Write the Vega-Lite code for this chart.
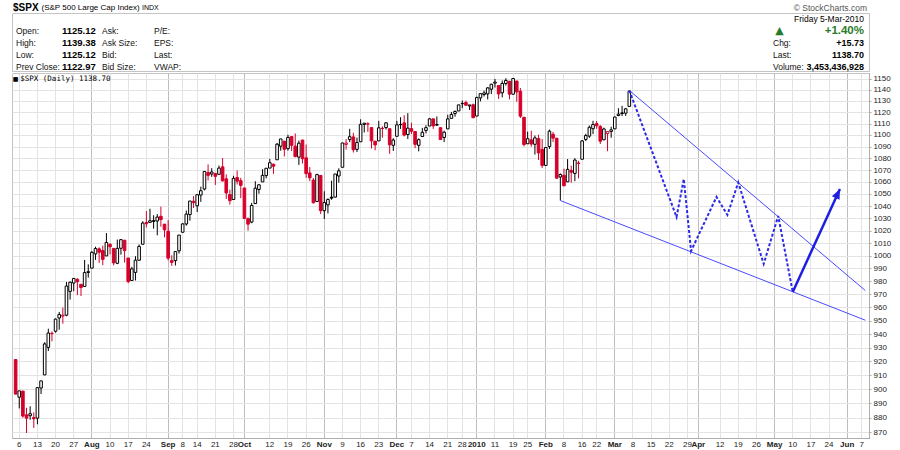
{
  "$schema": "https://vega.github.io/schema/vega-lite/v6.json",
  "padding": {"left": 11, "top": 2, "right": 4, "bottom": 0},
  "spacing": 0,
  "background": "white",
  "config": {"axis": {"labelFont": "Liberation Sans"}},
  "datasets": {
    "spx": [
      {"d":"2009-07-02","o":921.24,"h":921.24,"l":896.42,"c":896.42},
      {"d":"2009-07-06","o":894.27,"h":898.72,"l":886.36,"c":898.72},
      {"d":"2009-07-07","o":898.60,"h":898.60,"l":879.93,"c":881.03},
      {"d":"2009-07-08","o":881.90,"h":886.80,"l":869.32,"c":879.56},
      {"d":"2009-07-09","o":881.28,"h":887.86,"l":878.45,"c":882.68},
      {"d":"2009-07-10","o":880.03,"h":883.57,"l":872.81,"c":879.13},
      {"d":"2009-07-13","o":879.57,"h":901.05,"l":875.32,"c":901.05},
      {"d":"2009-07-14","o":900.77,"h":905.84,"l":896.50,"c":905.84},
      {"d":"2009-07-15","o":910.15,"h":933.95,"l":910.15,"c":932.68},
      {"d":"2009-07-16","o":930.17,"h":943.96,"l":927.45,"c":940.74},
      {"d":"2009-07-17","o":940.56,"h":941.89,"l":934.65,"c":940.38},
      {"d":"2009-07-20","o":942.07,"h":951.62,"l":940.99,"c":951.13},
      {"d":"2009-07-21","o":951.97,"h":956.53,"l":943.22,"c":954.58},
      {"d":"2009-07-22","o":953.40,"h":959.83,"l":947.75,"c":954.07},
      {"d":"2009-07-23","o":954.07,"h":979.42,"l":953.27,"c":976.29},
      {"d":"2009-07-24","o":972.16,"h":979.79,"l":965.95,"c":979.26},
      {"d":"2009-07-27","o":978.63,"h":982.49,"l":972.29,"c":982.18},
      {"d":"2009-07-28","o":981.48,"h":982.35,"l":969.35,"c":979.62},
      {"d":"2009-07-29","o":977.66,"h":977.76,"l":968.65,"c":975.15},
      {"d":"2009-07-30","o":976.01,"h":996.68,"l":976.01,"c":986.75},
      {"d":"2009-07-31","o":986.80,"h":993.18,"l":982.85,"c":987.48},
      {"d":"2009-08-03","o":990.22,"h":1003.61,"l":990.22,"c":1002.63},
      {"d":"2009-08-04","o":1001.41,"h":1007.12,"l":996.68,"c":1005.65},
      {"d":"2009-08-05","o":1005.41,"h":1006.64,"l":994.31,"c":1002.72},
      {"d":"2009-08-06","o":1004.06,"h":1008.00,"l":992.49,"c":997.08},
      {"d":"2009-08-07","o":999.83,"h":1018.00,"l":999.83,"c":1010.48},
      {"d":"2009-08-10","o":1008.89,"h":1010.12,"l":1000.99,"c":1007.10},
      {"d":"2009-08-11","o":1005.77,"h":1005.77,"l":992.40,"c":994.35},
      {"d":"2009-08-12","o":994.00,"h":1012.78,"l":993.36,"c":1005.81},
      {"d":"2009-08-13","o":1005.86,"h":1013.14,"l":1000.82,"c":1012.73},
      {"d":"2009-08-14","o":1012.23,"h":1012.60,"l":994.60,"c":1004.09},
      {"d":"2009-08-17","o":998.18,"h":998.18,"l":978.51,"c":979.73},
      {"d":"2009-08-18","o":980.62,"h":991.20,"l":980.62,"c":989.67},
      {"d":"2009-08-19","o":986.88,"h":999.61,"l":980.62,"c":996.46},
      {"d":"2009-08-20","o":996.41,"h":1008.92,"l":996.39,"c":1007.37},
      {"d":"2009-08-21","o":1009.06,"h":1027.59,"l":1009.06,"c":1026.13},
      {"d":"2009-08-24","o":1026.59,"h":1035.82,"l":1022.48,"c":1025.57},
      {"d":"2009-08-25","o":1026.63,"h":1037.75,"l":1026.21,"c":1028.00},
      {"d":"2009-08-26","o":1027.35,"h":1032.47,"l":1021.57,"c":1028.12},
      {"d":"2009-08-27","o":1027.81,"h":1033.33,"l":1016.20,"c":1030.98},
      {"d":"2009-08-28","o":1031.62,"h":1039.47,"l":1023.13,"c":1028.93},
      {"d":"2009-08-31","o":1025.21,"h":1025.21,"l":1014.62,"c":1020.62},
      {"d":"2009-09-01","o":1019.52,"h":1028.45,"l":996.28,"c":998.04},
      {"d":"2009-09-02","o":996.07,"h":1000.34,"l":991.97,"c":994.75},
      {"d":"2009-09-03","o":996.12,"h":1003.43,"l":992.25,"c":1003.24},
      {"d":"2009-09-04","o":1003.84,"h":1016.48,"l":1001.65,"c":1016.40},
      {"d":"2009-09-08","o":1018.67,"h":1026.07,"l":1018.67,"c":1025.39},
      {"d":"2009-09-09","o":1025.36,"h":1036.34,"l":1023.97,"c":1033.37},
      {"d":"2009-09-10","o":1032.99,"h":1044.14,"l":1028.04,"c":1044.14},
      {"d":"2009-09-11","o":1043.92,"h":1048.18,"l":1038.40,"c":1042.73},
      {"d":"2009-09-14","o":1040.15,"h":1049.74,"l":1035.00,"c":1049.34},
      {"d":"2009-09-15","o":1049.03,"h":1056.04,"l":1043.42,"c":1052.63},
      {"d":"2009-09-16","o":1053.99,"h":1068.76,"l":1052.87,"c":1068.76},
      {"d":"2009-09-17","o":1067.87,"h":1074.77,"l":1061.20,"c":1065.49},
      {"d":"2009-09-18","o":1066.60,"h":1071.52,"l":1064.27,"c":1068.30},
      {"d":"2009-09-21","o":1067.14,"h":1067.28,"l":1057.46,"c":1064.66},
      {"d":"2009-09-22","o":1066.35,"h":1073.81,"l":1066.35,"c":1071.66},
      {"d":"2009-09-23","o":1072.69,"h":1080.15,"l":1060.39,"c":1060.87},
      {"d":"2009-09-24","o":1062.56,"h":1066.29,"l":1045.85,"c":1050.78},
      {"d":"2009-09-25","o":1049.48,"h":1053.47,"l":1041.17,"c":1044.38},
      {"d":"2009-09-28","o":1045.38,"h":1065.13,"l":1045.38,"c":1062.98},
      {"d":"2009-09-29","o":1063.69,"h":1069.62,"l":1057.83,"c":1060.61},
      {"d":"2009-09-30","o":1061.02,"h":1063.40,"l":1046.47,"c":1057.08},
      {"d":"2009-10-01","o":1054.91,"h":1054.91,"l":1029.45,"c":1029.85},
      {"d":"2009-10-02","o":1029.71,"h":1030.60,"l":1019.95,"c":1025.21},
      {"d":"2009-10-05","o":1026.87,"h":1042.58,"l":1025.92,"c":1040.46},
      {"d":"2009-10-06","o":1042.02,"h":1060.55,"l":1042.02,"c":1054.72},
      {"d":"2009-10-07","o":1053.65,"h":1058.02,"l":1050.10,"c":1057.58},
      {"d":"2009-10-08","o":1060.03,"h":1070.67,"l":1060.03,"c":1065.48},
      {"d":"2009-10-09","o":1065.28,"h":1071.51,"l":1063.00,"c":1071.49},
      {"d":"2009-10-12","o":1071.63,"h":1079.46,"l":1071.63,"c":1076.19},
      {"d":"2009-10-13","o":1074.96,"h":1075.30,"l":1066.71,"c":1073.19},
      {"d":"2009-10-14","o":1078.68,"h":1093.17,"l":1078.68,"c":1092.02},
      {"d":"2009-10-15","o":1090.36,"h":1096.56,"l":1086.41,"c":1096.56},
      {"d":"2009-10-16","o":1094.67,"h":1094.67,"l":1081.53,"c":1087.68},
      {"d":"2009-10-19","o":1088.22,"h":1100.17,"l":1086.48,"c":1097.91},
      {"d":"2009-10-20","o":1098.64,"h":1098.64,"l":1086.16,"c":1091.06},
      {"d":"2009-10-21","o":1090.36,"h":1101.36,"l":1080.77,"c":1081.40},
      {"d":"2009-10-22","o":1080.96,"h":1095.21,"l":1074.31,"c":1092.91},
      {"d":"2009-10-23","o":1095.62,"h":1095.83,"l":1075.49,"c":1079.60},
      {"d":"2009-10-26","o":1080.36,"h":1091.75,"l":1063.38,"c":1066.95},
      {"d":"2009-10-27","o":1067.54,"h":1072.48,"l":1060.62,"c":1063.41},
      {"d":"2009-10-28","o":1061.51,"h":1063.26,"l":1042.19,"c":1042.63},
      {"d":"2009-10-29","o":1043.69,"h":1066.83,"l":1043.69,"c":1066.11},
      {"d":"2009-10-30","o":1065.41,"h":1065.41,"l":1033.38,"c":1036.19},
      {"d":"2009-11-02","o":1036.18,"h":1052.18,"l":1029.38,"c":1042.88},
      {"d":"2009-11-03","o":1040.92,"h":1046.36,"l":1033.94,"c":1045.41},
      {"d":"2009-11-04","o":1047.30,"h":1061.00,"l":1045.15,"c":1046.50},
      {"d":"2009-11-05","o":1047.30,"h":1066.65,"l":1047.30,"c":1066.63},
      {"d":"2009-11-06","o":1064.95,"h":1071.48,"l":1059.32,"c":1069.30},
      {"d":"2009-11-09","o":1072.31,"h":1093.19,"l":1072.31,"c":1093.08},
      {"d":"2009-11-10","o":1091.86,"h":1096.42,"l":1087.40,"c":1093.01},
      {"d":"2009-11-11","o":1096.04,"h":1105.37,"l":1093.81,"c":1098.51},
      {"d":"2009-11-12","o":1098.31,"h":1101.97,"l":1084.90,"c":1087.24},
      {"d":"2009-11-13","o":1087.59,"h":1097.79,"l":1085.33,"c":1093.48},
      {"d":"2009-11-16","o":1094.13,"h":1113.69,"l":1094.13,"c":1109.30},
      {"d":"2009-11-17","o":1109.22,"h":1110.52,"l":1102.19,"c":1110.32},
      {"d":"2009-11-18","o":1109.44,"h":1111.10,"l":1102.70,"c":1109.80},
      {"d":"2009-11-19","o":1106.44,"h":1106.44,"l":1088.40,"c":1094.90},
      {"d":"2009-11-20","o":1094.66,"h":1094.66,"l":1086.81,"c":1091.38},
      {"d":"2009-11-23","o":1094.86,"h":1112.38,"l":1094.86,"c":1106.24},
      {"d":"2009-11-24","o":1105.83,"h":1107.56,"l":1097.63,"c":1105.65},
      {"d":"2009-11-25","o":1106.49,"h":1111.18,"l":1104.75,"c":1110.63},
      {"d":"2009-11-27","o":1105.47,"h":1105.47,"l":1083.74,"c":1091.49},
      {"d":"2009-11-30","o":1091.07,"h":1097.24,"l":1086.25,"c":1095.63},
      {"d":"2009-12-01","o":1098.89,"h":1112.28,"l":1098.89,"c":1108.86},
      {"d":"2009-12-02","o":1109.03,"h":1115.58,"l":1105.29,"c":1109.24},
      {"d":"2009-12-03","o":1110.59,"h":1117.28,"l":1098.74,"c":1099.92},
      {"d":"2009-12-04","o":1100.43,"h":1119.13,"l":1096.52,"c":1105.98},
      {"d":"2009-12-07","o":1105.52,"h":1110.72,"l":1100.83,"c":1103.25},
      {"d":"2009-12-08","o":1103.04,"h":1103.04,"l":1088.61,"c":1091.94},
      {"d":"2009-12-09","o":1091.07,"h":1097.04,"l":1085.89,"c":1095.95},
      {"d":"2009-12-10","o":1098.69,"h":1106.25,"l":1098.69,"c":1102.35},
      {"d":"2009-12-11","o":1103.96,"h":1108.50,"l":1101.34,"c":1106.41},
      {"d":"2009-12-14","o":1107.84,"h":1114.76,"l":1107.84,"c":1114.11},
      {"d":"2009-12-15","o":1114.11,"h":1114.11,"l":1105.35,"c":1107.93},
      {"d":"2009-12-16","o":1108.61,"h":1116.21,"l":1107.96,"c":1109.18},
      {"d":"2009-12-17","o":1106.36,"h":1106.36,"l":1095.88,"c":1096.08},
      {"d":"2009-12-18","o":1097.86,"h":1103.74,"l":1093.88,"c":1102.47},
      {"d":"2009-12-21","o":1105.31,"h":1117.68,"l":1105.31,"c":1114.05},
      {"d":"2009-12-22","o":1114.51,"h":1120.27,"l":1114.51,"c":1118.02},
      {"d":"2009-12-23","o":1118.84,"h":1121.58,"l":1116.00,"c":1120.59},
      {"d":"2009-12-24","o":1121.08,"h":1126.48,"l":1121.08,"c":1126.48},
      {"d":"2009-12-28","o":1127.53,"h":1130.38,"l":1123.51,"c":1127.78},
      {"d":"2009-12-29","o":1128.55,"h":1130.38,"l":1126.08,"c":1126.20},
      {"d":"2009-12-30","o":1125.53,"h":1126.42,"l":1121.94,"c":1126.42},
      {"d":"2009-12-31","o":1126.60,"h":1127.64,"l":1114.81,"c":1115.10},
      {"d":"2010-01-04","o":1116.56,"h":1133.87,"l":1116.56,"c":1132.99},
      {"d":"2010-01-05","o":1132.66,"h":1136.63,"l":1129.66,"c":1136.52},
      {"d":"2010-01-06","o":1135.71,"h":1139.19,"l":1133.95,"c":1137.14},
      {"d":"2010-01-07","o":1136.27,"h":1142.46,"l":1131.32,"c":1141.69},
      {"d":"2010-01-08","o":1140.52,"h":1145.39,"l":1136.22,"c":1144.98},
      {"d":"2010-01-11","o":1145.96,"h":1149.74,"l":1142.02,"c":1146.98},
      {"d":"2010-01-12","o":1143.81,"h":1143.81,"l":1131.77,"c":1136.22},
      {"d":"2010-01-13","o":1137.31,"h":1148.40,"l":1133.18,"c":1145.68},
      {"d":"2010-01-14","o":1145.68,"h":1150.41,"l":1143.80,"c":1148.46},
      {"d":"2010-01-15","o":1147.72,"h":1147.77,"l":1131.39,"c":1136.03},
      {"d":"2010-01-19","o":1136.03,"h":1150.45,"l":1135.77,"c":1150.23},
      {"d":"2010-01-20","o":1147.95,"h":1147.95,"l":1129.25,"c":1138.04},
      {"d":"2010-01-21","o":1138.68,"h":1141.58,"l":1114.84,"c":1116.48},
      {"d":"2010-01-22","o":1115.49,"h":1115.49,"l":1090.18,"c":1091.76},
      {"d":"2010-01-25","o":1092.40,"h":1102.97,"l":1092.40,"c":1096.78},
      {"d":"2010-01-26","o":1095.80,"h":1103.69,"l":1089.86,"c":1092.17},
      {"d":"2010-01-27","o":1091.94,"h":1099.51,"l":1083.11,"c":1097.50},
      {"d":"2010-01-28","o":1096.93,"h":1100.22,"l":1078.46,"c":1084.53},
      {"d":"2010-01-29","o":1087.61,"h":1096.45,"l":1071.59,"c":1073.87},
      {"d":"2010-02-01","o":1073.89,"h":1089.38,"l":1073.89,"c":1089.19},
      {"d":"2010-02-02","o":1090.05,"h":1104.73,"l":1087.96,"c":1103.32},
      {"d":"2010-02-03","o":1100.67,"h":1102.72,"l":1093.97,"c":1097.28},
      {"d":"2010-02-04","o":1097.25,"h":1097.25,"l":1062.78,"c":1063.11},
      {"d":"2010-02-05","o":1064.12,"h":1067.13,"l":1044.50,"c":1066.19},
      {"d":"2010-02-08","o":1065.51,"h":1071.20,"l":1056.51,"c":1056.74},
      {"d":"2010-02-09","o":1060.06,"h":1079.28,"l":1060.06,"c":1070.52},
      {"d":"2010-02-10","o":1069.68,"h":1073.67,"l":1059.34,"c":1068.13},
      {"d":"2010-02-11","o":1067.10,"h":1080.04,"l":1060.59,"c":1078.47},
      {"d":"2010-02-12","o":1075.95,"h":1077.81,"l":1062.97,"c":1075.51},
      {"d":"2010-02-16","o":1079.13,"h":1095.67,"l":1079.13,"c":1094.87},
      {"d":"2010-02-17","o":1096.14,"h":1101.03,"l":1094.72,"c":1099.51},
      {"d":"2010-02-18","o":1099.03,"h":1108.24,"l":1097.48,"c":1106.75},
      {"d":"2010-02-19","o":1105.49,"h":1112.42,"l":1100.80,"c":1109.17},
      {"d":"2010-02-22","o":1110.00,"h":1112.29,"l":1105.38,"c":1108.01},
      {"d":"2010-02-23","o":1107.49,"h":1108.58,"l":1092.18,"c":1094.60},
      {"d":"2010-02-24","o":1095.89,"h":1106.42,"l":1095.50,"c":1105.24},
      {"d":"2010-02-25","o":1101.24,"h":1103.50,"l":1086.02,"c":1102.94},
      {"d":"2010-02-26","o":1103.10,"h":1107.24,"l":1097.56,"c":1104.49},
      {"d":"2010-03-01","o":1105.36,"h":1116.11,"l":1105.36,"c":1115.71},
      {"d":"2010-03-02","o":1117.01,"h":1123.46,"l":1116.51,"c":1118.31},
      {"d":"2010-03-03","o":1119.36,"h":1125.64,"l":1116.58,"c":1118.79},
      {"d":"2010-03-04","o":1119.12,"h":1123.73,"l":1116.66,"c":1122.97},
      {"d":"2010-03-05","o":1125.12,"h":1139.38,"l":1125.12,"c":1138.70}
    ],
    "trend": [
      {"line":"upper","d":"2010-03-05","v":1139.4},
      {"line":"upper","d":"2010-06-08","v":972.8},
      {"line":"lower","d":"2010-02-05","v":1044.5},
      {"line":"lower","d":"2010-06-08","v":950.3}
    ],
    "proj": [
      {"d":"2010-03-05","v":1139.4},
      {"d":"2010-03-24","v":1031.0},
      {"d":"2010-03-26","v":1062.4},
      {"d":"2010-03-30","v":1003.7},
      {"d":"2010-04-09","v":1047.5},
      {"d":"2010-04-14","v":1032.7},
      {"d":"2010-04-19","v":1059.5},
      {"d":"2010-04-28","v":993.5},
      {"d":"2010-05-04","v":1031.9},
      {"d":"2010-05-10","v":971.7}
    ],
    "arrow": [
      {"d":"2010-05-10","v":971.7},
      {"d":"2010-05-27","v":1054.1}
    ]
  },
  "vconcat": [
    {
      "width": 857,
      "height": 58,
      "view": {"stroke": "#c4c4c4", "fill": "white"},
      "data": {"values": [
        {"t":"$SPX","col":0,"row":0,"k":"sym"},
        {"t":"(S&P 500 Large Cap Index)","col":2,"row":0,"k":"name"},
        {"t":"INDX","col":5,"row":0,"k":"exch"},
        {"t":"© StockCharts.com","col":10,"row":0,"k":"brand"},
        {"t":"Friday  5-Mar-2010","col":9,"row":1,"k":"rdate"},
        {"t":"Open:","col":1,"row":2,"k":"lab"},
        {"t":"High:","col":1,"row":3,"k":"lab"},
        {"t":"Low:","col":1,"row":4,"k":"lab"},
        {"t":"Prev Close:","col":1,"row":5,"k":"lab"},
        {"t":"1125.12","col":3,"row":2,"k":"val"},
        {"t":"1139.38","col":3,"row":3,"k":"val"},
        {"t":"1125.12","col":3,"row":4,"k":"val"},
        {"t":"1122.97","col":3,"row":5,"k":"val"},
        {"t":"Ask:","col":4,"row":2,"k":"lab"},
        {"t":"Ask Size:","col":4,"row":3,"k":"lab"},
        {"t":"Bid:","col":4,"row":4,"k":"lab"},
        {"t":"Bid Size:","col":4,"row":5,"k":"lab"},
        {"t":"P/E:","col":6,"row":2,"k":"lab"},
        {"t":"EPS:","col":6,"row":3,"k":"lab"},
        {"t":"Last:","col":6,"row":4,"k":"lab"},
        {"t":"VWAP:","col":6,"row":5,"k":"lab"},
        {"t":"▲","col":8,"row":2,"k":"tri"},
        {"t":"+1.40%","col":9,"row":2,"k":"pct"},
        {"t":"Chg:","col":7,"row":3,"k":"lab"},
        {"t":"+15.73","col":9,"row":3,"k":"rval"},
        {"t":"Last:","col":7,"row":4,"k":"lab"},
        {"t":"1138.70","col":9,"row":4,"k":"rval"},
        {"t":"Volume:","col":7,"row":5,"k":"lab"},
        {"t":"3,453,436,928","col":9,"row":5,"k":"rval"}
      ]},
      "encoding": {
        "x": {"field":"col","type":"quantitative","axis":null,
              "scale":{"domain":[0,1,2,3,4,5,6,7,8,9,10],"range":[1,4,29.5,50,90,130,142,761,767.5,852,855],"nice":false,"zero":false}},
        "y": {"field":"row","type":"quantitative","axis":null,
              "scale":{"domain":[0,1,2,3,4,5],"range":[-5,6,18,30,42,53.5],"nice":false,"zero":false}},
        "text": {"field":"t"}
      },
      "layer": [
        {"transform":[{"filter":"datum.k=='sym'"}],"mark":{"type":"text","align":"left","baseline":"middle","font":"Liberation Sans","fontSize":10,"fontWeight":"bold","color":"#000"}},
        {"transform":[{"filter":"datum.k=='name'"}],"mark":{"type":"text","align":"left","baseline":"middle","font":"Liberation Sans","fontSize":8,"color":"#000"}},
        {"transform":[{"filter":"datum.k=='exch'"}],"mark":{"type":"text","align":"left","baseline":"middle","font":"Liberation Sans","fontSize":7,"color":"#000"}},
        {"transform":[{"filter":"datum.k=='brand'"}],"mark":{"type":"text","align":"right","baseline":"middle","font":"Liberation Sans","fontSize":8.5,"color":"#555"}},
        {"transform":[{"filter":"datum.k=='rdate'"}],"mark":{"type":"text","align":"right","baseline":"middle","font":"Liberation Sans","fontSize":8.5,"color":"#000"}},
        {"transform":[{"filter":"datum.k=='lab'"}],"mark":{"type":"text","align":"left","baseline":"middle","font":"Liberation Sans","fontSize":8.5,"color":"#111"}},
        {"transform":[{"filter":"datum.k=='val'"}],"mark":{"type":"text","align":"left","baseline":"middle","font":"Liberation Sans","fontSize":9.5,"fontWeight":"bold","color":"#000"}},
        {"transform":[{"filter":"datum.k=='rval'"}],"mark":{"type":"text","align":"right","baseline":"middle","font":"Liberation Sans","fontSize":9,"fontWeight":"bold","color":"#000"}},
        {"transform":[{"filter":"datum.k=='pct'"}],"mark":{"type":"text","align":"right","baseline":"middle","font":"Liberation Sans","fontSize":11.5,"fontWeight":"bold","color":"#2a7a2a"}},
        {"transform":[{"filter":"datum.k=='tri'"}],"mark":{"type":"text","align":"center","baseline":"middle","font":"DejaVu Sans","fontSize":11,"color":"#2a7a2a"}}
      ]
    },
    {
      "width": 857,
      "height": 365,
      "view": {"stroke": "#c4c4c4", "fill": "white"},
      "encoding": {
        "x": {
          "field": "d", "type": "ordinal", "title": null,
          "scale": {"type": "band", "paddingInner": 0, "paddingOuter": 0.5, "domain": [
            "2009-07-02","2009-07-06","2009-07-07","2009-07-08","2009-07-09","2009-07-10","2009-07-13","2009-07-14","2009-07-15","2009-07-16","2009-07-17","2009-07-20","2009-07-21","2009-07-22","2009-07-23","2009-07-24","2009-07-27","2009-07-28","2009-07-29","2009-07-30","2009-07-31",
            "2009-08-03","2009-08-04","2009-08-05","2009-08-06","2009-08-07","2009-08-10","2009-08-11","2009-08-12","2009-08-13","2009-08-14","2009-08-17","2009-08-18","2009-08-19","2009-08-20","2009-08-21","2009-08-24","2009-08-25","2009-08-26","2009-08-27","2009-08-28","2009-08-31",
            "2009-09-01","2009-09-02","2009-09-03","2009-09-04","2009-09-08","2009-09-09","2009-09-10","2009-09-11","2009-09-14","2009-09-15","2009-09-16","2009-09-17","2009-09-18","2009-09-21","2009-09-22","2009-09-23","2009-09-24","2009-09-25","2009-09-28","2009-09-29","2009-09-30",
            "2009-10-01","2009-10-02","2009-10-05","2009-10-06","2009-10-07","2009-10-08","2009-10-09","2009-10-12","2009-10-13","2009-10-14","2009-10-15","2009-10-16","2009-10-19","2009-10-20","2009-10-21","2009-10-22","2009-10-23","2009-10-26","2009-10-27","2009-10-28","2009-10-29","2009-10-30",
            "2009-11-02","2009-11-03","2009-11-04","2009-11-05","2009-11-06","2009-11-09","2009-11-10","2009-11-11","2009-11-12","2009-11-13","2009-11-16","2009-11-17","2009-11-18","2009-11-19","2009-11-20","2009-11-23","2009-11-24","2009-11-25","2009-11-27","2009-11-30",
            "2009-12-01","2009-12-02","2009-12-03","2009-12-04","2009-12-07","2009-12-08","2009-12-09","2009-12-10","2009-12-11","2009-12-14","2009-12-15","2009-12-16","2009-12-17","2009-12-18","2009-12-21","2009-12-22","2009-12-23","2009-12-24","2009-12-28","2009-12-29","2009-12-30","2009-12-31",
            "2010-01-04","2010-01-05","2010-01-06","2010-01-07","2010-01-08","2010-01-11","2010-01-12","2010-01-13","2010-01-14","2010-01-15","2010-01-19","2010-01-20","2010-01-21","2010-01-22","2010-01-25","2010-01-26","2010-01-27","2010-01-28","2010-01-29",
            "2010-02-01","2010-02-02","2010-02-03","2010-02-04","2010-02-05","2010-02-08","2010-02-09","2010-02-10","2010-02-11","2010-02-12","2010-02-16","2010-02-17","2010-02-18","2010-02-19","2010-02-22","2010-02-23","2010-02-24","2010-02-25","2010-02-26",
            "2010-03-01","2010-03-02","2010-03-03","2010-03-04","2010-03-05","2010-03-08","2010-03-09","2010-03-10","2010-03-11","2010-03-12","2010-03-15","2010-03-16","2010-03-17","2010-03-18","2010-03-19","2010-03-22","2010-03-23","2010-03-24","2010-03-25","2010-03-26","2010-03-29","2010-03-30","2010-03-31",
            "2010-04-01","2010-04-05","2010-04-06","2010-04-07","2010-04-08","2010-04-09","2010-04-12","2010-04-13","2010-04-14","2010-04-15","2010-04-16","2010-04-19","2010-04-20","2010-04-21","2010-04-22","2010-04-23","2010-04-26","2010-04-27","2010-04-28","2010-04-29","2010-04-30",
            "2010-05-03","2010-05-04","2010-05-05","2010-05-06","2010-05-07","2010-05-10","2010-05-11","2010-05-12","2010-05-13","2010-05-14","2010-05-17","2010-05-18","2010-05-19","2010-05-20","2010-05-21","2010-05-24","2010-05-25","2010-05-26","2010-05-27","2010-05-28",
            "2010-06-01","2010-06-02","2010-06-03","2010-06-04","2010-06-07","2010-06-08"
          ]},
          "axis": {
            "orient": "bottom",
            "bandPosition": 0.5,
            "values": ["2009-07-06","2009-07-13","2009-07-20","2009-07-27","2009-08-03","2009-08-10","2009-08-17","2009-08-24","2009-09-01","2009-09-08","2009-09-14","2009-09-21","2009-09-28","2009-10-01","2009-10-12","2009-10-19","2009-10-26","2009-11-02","2009-11-09","2009-11-16","2009-11-23","2009-12-01","2009-12-07","2009-12-14","2009-12-21","2009-12-28","2010-01-04","2010-01-11","2010-01-19","2010-01-25","2010-02-01","2010-02-08","2010-02-16","2010-02-22","2010-03-01","2010-03-08","2010-03-15","2010-03-22","2010-03-29","2010-04-01","2010-04-12","2010-04-19","2010-04-26","2010-05-03","2010-05-10","2010-05-17","2010-05-24","2010-06-01","2010-06-07"],
            "labelExpr": "datum.value == '2010-01-04' ? '2010' : (toNumber(slice(datum.value,8,10)) <= 4 ? ['Jan','Feb','Mar','Apr','May','Jun','Jul','Aug','Sep','Oct','Nov','Dec'][toNumber(slice(datum.value,5,7))-1] : '' + toNumber(slice(datum.value,8,10)))",
            "labelAngle": 0,
            "labelFontSize": 8,
            "labelColor": "#222",
            "labelOverlap": false,
            "labelPadding": 2,
            "labelFontWeight": {"condition": {"test": "toNumber(slice(datum.value,8,10)) <= 4", "value": "bold"}, "value": "normal"},
            "grid": true,
            "gridColor": {"condition": {"test": "toNumber(slice(datum.value,8,10)) <= 4", "value": "#bdbdbd"}, "value": "#e3e3e3"},
            "gridWidth": 1,
            "ticks": false,
            "domainColor": "#999",
            "domainDash": [1, 1]
          }
        }
      },
      "layer": [
        {
          "data": {"name": "spx"},
          "transform": [{"window": [{"op": "lag", "field": "c", "as": "pc"}], "sort": [{"field": "d"}]}],
          "mark": {"type": "rule", "strokeWidth": 1},
          "encoding": {
            "x": {"field": "d", "type": "ordinal", "bandPosition": 0.5},
            "y": {"field": "l", "type": "quantitative", "title": null,
                  "scale": {"type": "log", "domain": [865.9, 1155.2], "nice": false, "zero": false},
                  "axis": {"orient": "right", "values": [870,880,890,900,910,920,930,940,950,960,970,980,990,1000,1010,1020,1030,1040,1050,1060,1070,1080,1090,1100,1110,1120,1130,1140,1150],
                           "format": "d", "labelFontSize": 8, "labelColor": "#222", "labelOverlap": false, "labelPadding": 2,
                           "tickSize": 2, "tickColor": "#aaa", "grid": true, "gridColor": "#e3e3e3", "domainColor": "#999", "domainDash": [1, 1]}},
            "y2": {"field": "h"},
            "color": {"condition": {"test": "isValid(datum.pc) ? datum.c < datum.pc : true", "value": "#d6002a"}, "value": "#000000"}
          }
        },
        {
          "data": {"name": "spx"},
          "transform": [{"window": [{"op": "lag", "field": "c", "as": "pc"}], "sort": [{"field": "d"}]}],
          "mark": {"type": "bar", "width": 2.6, "strokeWidth": 1},
          "encoding": {
            "y": {"field": "o", "type": "quantitative", "title": null},
            "y2": {"field": "c"},
            "fill": {"condition": [
              {"test": "datum.c >= datum.o", "value": "#ffffff"},
              {"test": "isValid(datum.pc) ? datum.c < datum.pc : true", "value": "#d6002a"}
            ], "value": "#000000"},
            "stroke": {"condition": {"test": "isValid(datum.pc) ? datum.c < datum.pc : true", "value": "#d6002a"}, "value": "#000000"}
          }
        },
        {
          "data": {"name": "trend"},
          "mark": {"type": "line", "color": "#4a4aff", "strokeWidth": 1, "clip": true},
          "encoding": {
            "x": {"field": "d", "type": "ordinal", "bandPosition": 0.5},
            "y": {"field": "v", "type": "quantitative", "title": null},
            "detail": {"field": "line"}
          }
        },
        {
          "data": {"name": "proj"},
          "mark": {"type": "line", "color": "#2a2ae8", "strokeWidth": 2, "strokeDash": [3, 2], "clip": true},
          "encoding": {
            "x": {"field": "d", "type": "ordinal", "bandPosition": 0.5},
            "y": {"field": "v", "type": "quantitative", "title": null}
          }
        },
        {
          "data": {"name": "arrow"},
          "mark": {"type": "line", "color": "#1e1ee0", "strokeWidth": 2.5, "clip": true},
          "encoding": {
            "x": {"field": "d", "type": "ordinal", "bandPosition": 0.5},
            "y": {"field": "v", "type": "quantitative", "title": null}
          }
        },
        {
          "data": {"name": "arrow"},
          "transform": [{"filter": "datum.d == '2010-05-27'"}],
          "mark": {"type": "point", "shape": "M0,0L0.8,1.9L-0.8,1.9Z", "filled": true, "color": "#1e1ee0", "opacity": 1, "size": 110, "angle": 25},
          "encoding": {
            "x": {"field": "d", "type": "ordinal", "bandPosition": 0.5},
            "y": {"field": "v", "type": "quantitative", "title": null}
          }
        },
        {
          "data": {"values": [{}]},
          "mark": {"type": "text", "align": "center", "baseline": "top", "font": "DejaVu Sans", "fontSize": 6, "dy": 3, "color": "#000"},
          "encoding": {
            "x": {"datum": "2009-07-02", "type": "ordinal"},
            "y": {"datum": 1155.2, "type": "quantitative", "title": null},
            "text": {"value": "■"}
          }
        },
        {
          "data": {"values": [{}]},
          "mark": {"type": "text", "align": "left", "baseline": "top", "font": "DejaVu Sans Mono", "fontSize": 7.5, "dx": 1, "dy": 2, "color": "#000"},
          "encoding": {
            "x": {"datum": "2009-07-06", "type": "ordinal"},
            "y": {"datum": 1155.2, "type": "quantitative", "title": null},
            "text": {"value": "$SPX (Daily) 1138.70"}
          }
        }
      ]
    }
  ]
}
